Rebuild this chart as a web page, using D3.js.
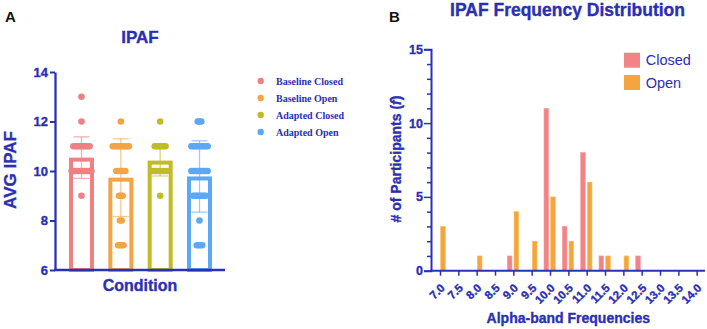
<!DOCTYPE html>
<html>
<head>
<meta charset="utf-8">
<title>IPAF</title>
<script src="https://cdn.jsdelivr.net/npm/d3@7"></script>
<style>
  body { margin: 0; background: #fff; }
  svg { display: block; font-family: "Liberation Sans", Arial, sans-serif; }
  .heavy { stroke: #2a2fb3; stroke-width: 0.35px; }
</style>
</head>
<body>
<div id="container"></div>
<script>
// ---- panel A data
var groupsA = ["Baseline Closed", "Baseline Open", "Adapted Closed", "Adapted Open"];
var meansA = [10.54, 9.73, 10.42, 9.78];
var sdA = [0.84, 1.57, 0.62, 1.44];
var dotLevels = [7, 8, 9, 10, 11, 12, 13];
var dotsBaselineClosed = [0, 0, 1, 12, 10, 1, 1];
var dotsBaselineOpen = [4, 2, 3, 6, 10, 1, 0];
var dotsAdaptedClosed = [0, 0, 1, 9, 7, 1, 0];
var dotsAdaptedOpen = [4, 1, 8, 10, 10, 3, 0];
var yTicksA = [6, 8, 10, 12, 14];

// ---- panel B data
var binsB = [7.0, 7.5, 8.0, 8.5, 9.0, 9.5, 10.0, 10.5, 11.0, 11.5, 12.0, 12.5, 13.0, 13.5, 14.0];
var closedCounts = [0, 0, 0, 0, 1, 0, 11, 3, 8, 1, 0, 1, 0, 0, 0];
var openCounts = [3, 0, 1, 0, 4, 2, 5, 2, 6, 1, 1, 0, 0, 0, 0];
var seriesB = ["Closed", "Open"];

var colA = ["#ef8182", "#f4a443", "#bfbc26", "#5ba8f6"];
var colB = ["#f08486", "#f4a542"];
var blue = "#2a31b5";
var textBlue = "#2a2fb3";

var svg = d3.select("#container").append("svg")
    .attr("width", 707)
    .attr("height", 329);

// ================= Panel A
var yA = d3.scaleLinear().domain([6, 14]).range([270, 72]);
var xA = d3.scalePoint().domain(groupsA).range([81.5, 199.5]);
var dotSets = [dotsBaselineClosed, dotsBaselineOpen, dotsAdaptedClosed, dotsAdaptedOpen];

var gA = svg.append("g");

svg.append("text").text("A")
    .attr("x", 5).attr("y", 21.5)
    .attr("font-size", 15).attr("font-weight", "bold").attr("fill", "#111");

svg.append("text").text("IPAF").attr("class", "heavy")
    .attr("x", 140).attr("y", 43)
    .attr("text-anchor", "middle")
    .attr("font-size", 17).attr("font-weight", "bold").attr("fill", textBlue);

// bars
gA.selectAll(".barA").data(groupsA).enter().append("rect")
    .attr("class", "barA")
    .attr("x", d => xA(d) - 10.5)
    .attr("width", 21)
    .attr("y", (d, i) => yA(meansA[i]) + 2)
    .attr("height", (d, i) => yA(6) - yA(meansA[i]) - 2)
    .attr("fill", "none")
    .attr("stroke", (d, i) => colA[i])
    .attr("stroke-width", 4);

// error bars
groupsA.forEach(function(g, i) {
  var c = xA(g), hi = yA(meansA[i] + sdA[i]), lo = yA(meansA[i] - sdA[i]);
  var eg = gA.append("g").attr("stroke", colA[i]).attr("stroke-opacity", 0.6).attr("stroke-width", 1.3);
  eg.append("line").attr("x1", c).attr("x2", c).attr("y1", hi).attr("y2", lo);
  eg.append("line").attr("x1", c - 8).attr("x2", c + 8).attr("y1", hi).attr("y2", hi);
  eg.append("line").attr("x1", c - 8).attr("x2", c + 8).attr("y1", lo).attr("y2", lo);
});

// dots
groupsA.forEach(function(g, i) {
  var pts = [];
  dotLevels.forEach(function(v, k) {
    var n = dotSets[i][k];
    for (var j = 0; j < n; j++) pts.push({v: v, off: (j - (n - 1) / 2) * 1.8});
  });
  gA.selectAll(".dot" + i).data(pts).enter().append("circle")
      .attr("cx", d => xA(g) + d.off)
      .attr("cy", d => yA(d.v))
      .attr("r", 3.3)
      .attr("fill", colA[i]);
});

// axes
var yAxisA = d3.axisLeft(yA).tickValues(yTicksA).tickSize(5).tickSizeOuter(0).tickPadding(2);
var yAx = svg.append("g").attr("transform", "translate(55,0)").call(yAxisA);
yAx.select(".domain").attr("stroke", blue).attr("stroke-width", 2.3);
yAx.selectAll(".tick line").attr("stroke", blue).attr("stroke-width", 2);
yAx.selectAll(".tick text").attr("class", "heavy").attr("fill", textBlue).attr("font-size", 13)
    .attr("font-weight", "bold").attr("font-family", "Liberation Sans, Arial, sans-serif");

svg.append("line")
    .attr("x1", 54).attr("x2", 225).attr("y1", yA(6)).attr("y2", yA(6))
    .attr("stroke", blue).attr("stroke-width", 2.3);

svg.append("text").text("AVG IPAF").attr("class", "heavy")
    .attr("transform", "translate(16,170) rotate(-90)")
    .attr("text-anchor", "middle")
    .attr("font-size", 17).attr("font-weight", "bold").attr("fill", textBlue);

svg.append("text").text("Condition").attr("class", "heavy")
    .attr("x", 140).attr("y", 291)
    .attr("text-anchor", "middle")
    .attr("font-size", 16).attr("font-weight", "bold").attr("fill", textBlue);

// legend A
var legA = svg.append("g");
groupsA.forEach(function(g, i) {
  var yy = 81 + i * 17;
  legA.append("circle").attr("cx", 260.7).attr("cy", yy).attr("r", 3.2).attr("fill", colA[i]);
  legA.append("text").text(g).attr("x", 276).attr("y", yy + 3.5)
      .attr("font-family", "Liberation Serif, Times New Roman, serif")
      .attr("font-size", 10).attr("font-weight", "bold").attr("fill", textBlue);
});

// ================= Panel B
var xB = d3.scaleLinear().domain([7, 14]).range([440, 696.7]);
var yB = d3.scaleLinear().domain([0, 15]).range([270.7, 49.3]);

svg.append("text").text("B")
    .attr("x", 389).attr("y", 21.5)
    .attr("font-size", 15).attr("font-weight", "bold").attr("fill", "#111");

svg.append("text").text("IPAF Frequency Distribution").attr("class", "heavy")
    .attr("x", 567.5).attr("y", 15.5)
    .attr("text-anchor", "middle")
    .attr("font-size", 17.5).attr("font-weight", "bold").attr("fill", textBlue);

var gB = svg.append("g");
var histData = [];
binsB.forEach(function(b, i) {
  if (closedCounts[i] > 0) histData.push({bin: b, n: closedCounts[i], s: 0});
  if (openCounts[i] > 0) histData.push({bin: b, n: openCounts[i], s: 1});
});
gB.selectAll(".barB").data(histData).enter().append("rect")
    .attr("class", "barB")
    .attr("x", d => d.s === 0 ? xB(d.bin) - 6 : xB(d.bin) + 0.7)
    .attr("width", 4.6)
    .attr("y", d => yB(d.n))
    .attr("height", d => yB(0) - yB(d.n))
    .attr("fill", d => colB[d.s])
    .attr("stroke", d => d3.color(colB[d.s]).brighter(0.4))
    .attr("stroke-width", 0.6);

// y axis B
var yAxisB = d3.axisLeft(yB).tickValues(d3.range(0, 16)).tickSizeOuter(0)
    .tickFormat(d => d % 5 === 0 ? d : "").tickSize(7).tickPadding(1);
var yBx = svg.append("g").attr("transform", "translate(431,0)").call(yAxisB);
yBx.select(".domain").attr("stroke", blue).attr("stroke-width", 2);
yBx.selectAll(".tick line").attr("stroke", blue).attr("stroke-width", 1.5)
    .attr("x2", d => d % 5 === 0 ? -7 : -4);
yBx.selectAll(".tick text").attr("class", "heavy").attr("fill", textBlue).attr("font-size", 12.5)
    .attr("font-weight", "bold").attr("font-family", "Liberation Sans, Arial, sans-serif");

// x axis B
var xAxisB = d3.axisBottom(xB).tickValues(binsB).tickSize(5).tickSizeOuter(0)
    .tickFormat(d3.format(".1f"));
var xBx = svg.append("g").attr("transform", "translate(0," + yB(0) + ")").call(xAxisB);
xBx.select(".domain").remove();
xBx.selectAll(".tick line").attr("stroke", blue).attr("stroke-width", 1.5);
xBx.selectAll(".tick text").attr("class", "heavy")
    .attr("fill", textBlue).attr("font-size", 11.5).attr("font-weight", "bold")
    .attr("font-family", "Liberation Sans, Arial, sans-serif")
    .attr("text-anchor", "end")
    .attr("x", 0).attr("y", 0).attr("dy", 0)
    .attr("transform", "translate(5,18) rotate(-45)");
svg.append("line")
    .attr("x1", 430).attr("x2", 705).attr("y1", yB(0)).attr("y2", yB(0))
    .attr("stroke", blue).attr("stroke-width", 2);

svg.append("text").attr("class", "heavy")
    .attr("transform", "translate(401,159) rotate(-90)")
    .attr("text-anchor", "middle")
    .attr("font-size", 14).attr("font-weight", "bold").attr("fill", textBlue)
    .call(function(t) {
      t.append("tspan").text("# of Participants (");
      t.append("tspan").text("f").attr("font-style", "italic");
      t.append("tspan").text(")");
    });

svg.append("text").text("Alpha-band Frequencies").attr("class", "heavy")
    .attr("x", 568.3).attr("y", 323)
    .attr("text-anchor", "middle")
    .attr("font-size", 14).attr("font-weight", "bold").attr("fill", textBlue);

// legend B
var legB = svg.append("g");
seriesB.forEach(function(s, i) {
  var yy = 52.7 + i * 22.3;
  legB.append("rect").attr("x", 624).attr("y", yy).attr("width", 16).attr("height", 15).attr("fill", colB[i]);
  legB.append("text").text(s).attr("x", 645.7).attr("y", yy + 12.5)
      .attr("font-size", 14.5).attr("fill", textBlue);
});
</script>
</body>
</html>
